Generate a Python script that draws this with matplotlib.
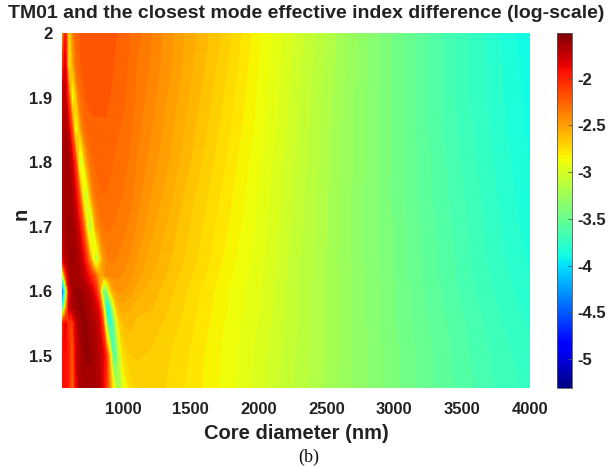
import numpy as np
import matplotlib.pyplot as plt
from matplotlib import cm
from matplotlib.colors import Normalize

plt.rcParams['font.family'] = ['Liberation Sans', 'DejaVu Sans']
plt.rcParams['axes.unicode_minus'] = False

# core diameter grid (nm), split in a dense part near the mode crossing and a coarse part
diam_near = [550, 575, 600, 625, 650, 675, 700, 725, 750, 775, 800, 825, 850,
             875, 900, 925, 950, 975, 1000, 1050, 1100]
diam_far = [1200, 1300, 1400, 1500, 1750, 2000, 2250, 2500, 2750, 3000, 3250,
            3500, 3750, 4000]
n_vals = [1.45, 1.5, 1.55, 1.575, 1.6, 1.625, 1.65, 1.7, 1.75, 1.8, 1.85, 1.9, 1.95, 2.0]

# log10 of effective index difference, one row per n (bottom to top)
logdiff_near = [
    [-1.95, -1.92, -2.0, -2.35, -1.9, -1.7, -1.64, -1.62, -1.62, -1.63, -1.66, -1.7, -1.85, -2.05, -2.4, -2.8, -3.15, -3.2, -2.95, -2.75, -2.7],
    [-1.95, -1.9, -2.0, -2.3, -1.85, -1.68, -1.62, -1.6, -1.6, -1.62, -1.66, -1.72, -1.82, -2.0, -2.6, -3.6, -3.5, -3.0, -2.75, -2.67, -2.66],
    [-2.0, -1.85, -2.05, -2.15, -1.8, -1.65, -1.6, -1.6, -1.62, -1.66, -1.72, -1.82, -2.1, -3.2, -3.95, -3.6, -3.0, -2.7, -2.62, -2.6, -2.63],
    [-3.9, -2.7, -1.8, -1.66, -1.62, -1.6, -1.6, -1.62, -1.66, -1.72, -1.8, -1.95, -2.6, -3.85, -3.8, -3.1, -2.65, -2.55, -2.54, -2.56, -2.6],
    [-4.8, -3.5, -1.9, -1.65, -1.6, -1.6, -1.62, -1.66, -1.72, -1.82, -1.98, -2.4, -3.4, -3.45, -2.8, -2.55, -2.47, -2.46, -2.47, -2.5, -2.54],
    [-3.3, -2.1, -1.68, -1.62, -1.62, -1.65, -1.72, -1.82, -1.95, -2.1, -2.3, -2.55, -2.5, -2.42, -2.4, -2.4, -2.41, -2.42, -2.43, -2.46, -2.5],
    [-1.85, -1.7, -1.62, -1.6, -1.62, -1.68, -1.8, -2.0, -2.35, -2.8, -3.3, -2.8, -2.5, -2.4, -2.37, -2.37, -2.38, -2.39, -2.4, -2.43, -2.47],
    [-1.7, -1.63, -1.6, -1.62, -1.7, -1.85, -2.1, -2.6, -3.3, -2.95, -2.5, -2.38, -2.33, -2.32, -2.32, -2.33, -2.34, -2.35, -2.36, -2.39, -2.43],
    [-1.65, -1.62, -1.62, -1.68, -1.85, -2.15, -2.75, -3.25, -2.7, -2.42, -2.32, -2.29, -2.28, -2.28, -2.29, -2.3, -2.31, -2.32, -2.33, -2.36, -2.4],
    [-1.65, -1.62, -1.64, -1.8, -2.1, -2.95, -3.0, -2.55, -2.36, -2.29, -2.27, -2.26, -2.26, -2.27, -2.27, -2.28, -2.29, -2.3, -2.31, -2.34, -2.38],
    [-1.7, -1.65, -1.8, -2.2, -3.0, -2.7, -2.38, -2.28, -2.25, -2.24, -2.24, -2.24, -2.24, -2.24, -2.25, -2.26, -2.27, -2.28, -2.29, -2.32, -2.36],
    [-1.75, -1.72, -2.15, -2.95, -2.7, -2.36, -2.27, -2.23, -2.22, -2.22, -2.22, -2.22, -2.22, -2.22, -2.23, -2.24, -2.25, -2.26, -2.27, -2.3, -2.34],
    [-2.1, -1.8, -2.9, -2.6, -2.33, -2.25, -2.22, -2.21, -2.21, -2.21, -2.21, -2.21, -2.21, -2.21, -2.22, -2.23, -2.24, -2.25, -2.26, -2.29, -2.33],
    [-2.55, -1.95, -2.85, -2.45, -2.28, -2.24, -2.22, -2.2, -2.2, -2.2, -2.2, -2.2, -2.2, -2.2, -2.21, -2.22, -2.23, -2.24, -2.25, -2.28, -2.31],
]
logdiff_far = [
    [-2.68, -2.71, -2.74, -2.78, -2.87, -2.98, -3.1, -3.21, -3.32, -3.42, -3.52, -3.6, -3.68, -3.74],
    [-2.67, -2.7, -2.73, -2.77, -2.87, -2.97, -3.09, -3.2, -3.32, -3.42, -3.52, -3.61, -3.69, -3.76],
    [-2.64, -2.67, -2.71, -2.75, -2.86, -2.96, -3.08, -3.2, -3.32, -3.43, -3.53, -3.62, -3.71, -3.78],
    [-2.61, -2.65, -2.69, -2.74, -2.85, -2.95, -3.08, -3.2, -3.32, -3.43, -3.54, -3.63, -3.72, -3.8],
    [-2.59, -2.63, -2.68, -2.73, -2.85, -2.95, -3.08, -3.2, -3.32, -3.43, -3.54, -3.64, -3.73, -3.81],
    [-2.56, -2.61, -2.66, -2.71, -2.83, -2.94, -3.07, -3.2, -3.32, -3.44, -3.55, -3.65, -3.74, -3.82],
    [-2.54, -2.59, -2.64, -2.69, -2.82, -2.93, -3.07, -3.2, -3.33, -3.44, -3.55, -3.65, -3.75, -3.83],
    [-2.5, -2.56, -2.62, -2.67, -2.8, -2.92, -3.06, -3.19, -3.33, -3.44, -3.56, -3.66, -3.76, -3.85],
    [-2.47, -2.53, -2.59, -2.65, -2.78, -2.91, -3.05, -3.19, -3.33, -3.45, -3.57, -3.67, -3.77, -3.86],
    [-2.44, -2.5, -2.56, -2.62, -2.76, -2.9, -3.04, -3.18, -3.32, -3.45, -3.57, -3.68, -3.78, -3.87],
    [-2.42, -2.48, -2.54, -2.6, -2.74, -2.88, -3.03, -3.18, -3.32, -3.45, -3.58, -3.69, -3.79, -3.88],
    [-2.4, -2.46, -2.52, -2.58, -2.72, -2.87, -3.02, -3.17, -3.32, -3.45, -3.58, -3.7, -3.8, -3.89],
    [-2.38, -2.44, -2.5, -2.56, -2.7, -2.86, -3.01, -3.16, -3.31, -3.45, -3.58, -3.7, -3.8, -3.9],
    [-2.37, -2.43, -2.49, -2.55, -2.68, -2.85, -3.0, -3.15, -3.31, -3.45, -3.58, -3.7, -3.81, -3.91],
]

xticks = [1000, 1500, 2000, 2500, 3000, 3500, 4000]
yticks = [1.5, 1.6, 1.7, 1.8, 1.9, 2.0]
ytick_labels = ["1.5", "1.6", "1.7", "1.8", "1.9", "2"]
cbar_ticks = [-5, -4.5, -4, -3.5, -3, -2.5, -2]
cmin, cmax = -5.31, -1.51

diam = np.array(diam_near + diam_far)
z = np.hstack([np.array(logdiff_near), np.array(logdiff_far)])
D, N = np.meshgrid(diam, np.array(n_vals))

fig = plt.figure(figsize=(6.09, 4.66), dpi=100)
ax = fig.add_axes([62/609, 78/466, 468/609, 355/466])
cax = fig.add_axes([557/609, 78/466, 15/609, 355/466])

levels = np.linspace(cmin, cmax, 80)
ax.contourf(D, N, z, levels=levels, cmap='jet', vmin=cmin, vmax=cmax)
ax.set_xlim(550, 4000)
ax.set_ylim(1.45, 2.0)
ax.set_xticks(xticks)
ax.set_yticks(yticks)
ax.set_yticklabels(ytick_labels)
for s in ax.spines.values():
    s.set_visible(False)
ax.tick_params(length=0, labelsize=12)
ax.tick_params(axis='x', pad=10)
ax.tick_params(axis='y', pad=7)
for lab in ax.get_xticklabels() + ax.get_yticklabels():
    lab.set_fontweight('bold')
    lab.set_color('#222222')

ax.set_xlabel("Core diameter (nm)", fontsize=14.5, fontweight='bold', color='#222222', labelpad=5)
ax.set_ylabel("n", fontsize=14.5, fontweight='bold', color='#222222')
ax.yaxis.set_label_coords(-0.066, 0.49)
fig.text(306/609, 1 - 14/466, "TM01 and the closest mode effective index difference (log-scale)",
         ha='center', va='center', fontsize=14, fontweight='bold', color='#222222')
fig.text(309/609, 1 - 457/466, "(b)", ha='center', va='center', fontsize=13,
         family='Liberation Serif', color='#111111')

sm = cm.ScalarMappable(norm=Normalize(cmin, cmax), cmap='jet')
cb = fig.colorbar(sm, cax=cax, ticks=cbar_ticks)
cb.ax.set_yticklabels([f"{t:g}" for t in cbar_ticks])
cb.outline.set_linewidth(0.6)
cb.outline.set_edgecolor('#555555')
cax.tick_params(length=3, width=0.6, direction='in', labelsize=12, pad=4, color='#555555')
for lab in cax.get_yticklabels():
    lab.set_fontweight('bold')
    lab.set_color('#222222')

fig.savefig("out.png", dpi=100)
